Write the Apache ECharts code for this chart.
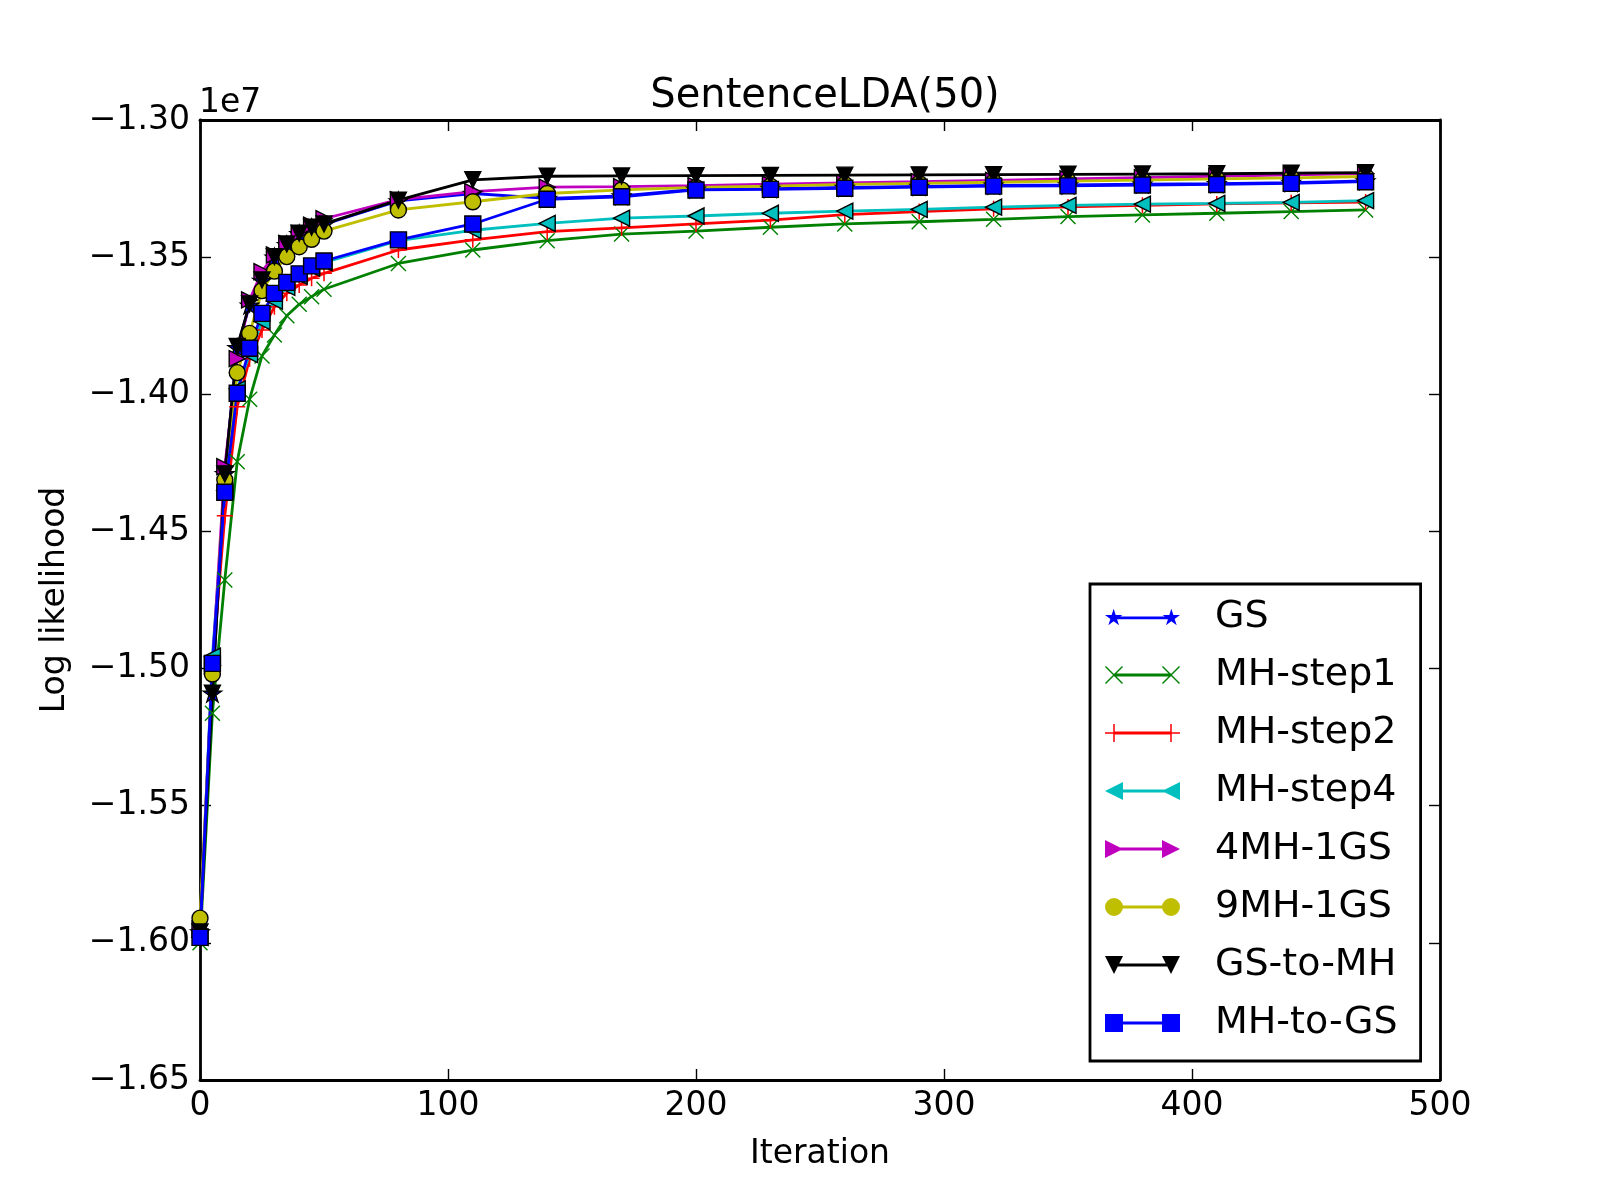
<!DOCTYPE html>
<html>
<head>
<meta charset="utf-8">
<title>SentenceLDA(50)</title>
<script src="https://cdn.jsdelivr.net/npm/echarts@6/dist/echarts.min.js"></script>
<style>
  html, body { margin: 0; padding: 0; background: #fff; }
  #chart { width: 1600px; height: 1200px; }
</style>
</head>
<body>
<div id="chart"></div>
<script>
// log likelihood, in units of 1e7 (same as the axis)
var iterations = [0, 5, 10, 15, 20, 25, 30, 35, 40, 45, 50, 80, 110, 140, 170, 200, 230, 260, 290, 320, 350, 380, 410, 440, 470];

var gs       = [-1.596, -1.509, -1.429, -1.3830, -1.3675, -1.3585, -1.3500, -1.3455, -1.3415, -1.3393, -1.3381, -1.3295, -1.3268, -1.3286, -1.3277, -1.3252, -1.3250, -1.3246, -1.3242, -1.3238, -1.3237, -1.3234, -1.3232, -1.3228, -1.3222];
var mhStep1  = [-1.600, -1.5163, -1.4677, -1.4246, -1.4018, -1.3860, -1.3784, -1.3714, -1.3672, -1.3644, -1.3617, -1.3523, -1.3474, -1.3440, -1.3416, -1.3405, -1.3391, -1.3379, -1.3371, -1.3362, -1.3352, -1.3346, -1.3340, -1.3334, -1.3328];
var mhStep2  = [-1.598, -1.499, -1.4443, -1.4045, -1.3870, -1.3766, -1.3681, -1.3632, -1.3602, -1.3577, -1.3559, -1.3474, -1.3437, -1.3407, -1.3393, -1.3379, -1.3365, -1.3345, -1.3334, -1.3324, -1.3317, -1.3311, -1.3306, -1.3302, -1.3299];
var mhStep4  = [-1.598, -1.4955, -1.435, -1.3980, -1.3855, -1.3735, -1.3660, -1.3610, -1.3570, -1.3540, -1.3520, -1.3440, -1.3402, -1.3377, -1.3358, -1.3350, -1.3340, -1.3332, -1.3326, -1.3318, -1.3311, -1.3307, -1.3304, -1.3300, -1.3294];
var mh4gs1   = [-1.595, -1.499, -1.4264, -1.3870, -1.3656, -1.3553, -1.3492, -1.3450, -1.3413, -1.3383, -1.3360, -1.3290, -1.3261, -1.3245, -1.3243, -1.3239, -1.3234, -1.3229, -1.3225, -1.3220, -1.3215, -1.3210, -1.3205, -1.3200, -1.3195];
var mh9gs1   = [-1.591, -1.502, -1.4312, -1.3921, -1.3778, -1.3622, -1.3551, -1.3498, -1.3462, -1.3435, -1.3405, -1.3328, -1.3298, -1.3268, -1.3255, -1.3246, -1.3241, -1.3235, -1.3231, -1.3227, -1.3223, -1.3219, -1.3215, -1.3211, -1.3206];
var gsToMh   = [-1.596, -1.509, -1.429, -1.3826, -1.3671, -1.3583, -1.3498, -1.3452, -1.3413, -1.3391, -1.3379, -1.3292, -1.3218, -1.3205, -1.3204, -1.3203, -1.3202, -1.3201, -1.3200, -1.3199, -1.3198, -1.3197, -1.3196, -1.3194, -1.3192];
var mhToGs   = [-1.598, -1.4981, -1.4357, -1.3996, -1.3832, -1.3705, -1.3632, -1.3592, -1.3561, -1.3532, -1.3514, -1.3437, -1.3379, -1.3289, -1.3280, -1.3255, -1.3253, -1.3249, -1.3245, -1.3241, -1.3240, -1.3237, -1.3235, -1.3231, -1.3225];

var FONT = 'DejaVu Sans';

// marker shapes (matplotlib style)
function f(n) { return n.toFixed(2); }
function star(cx, cy, s) {
  var r = s / 2, pts = [];
  for (var i = 0; i < 10; i++) {
    var rad = i % 2 ? r * 0.382 : r;
    var a = -Math.PI / 2 + i * Math.PI / 5;
    pts.push(f(cx + rad * Math.cos(a)) + ',' + f(cy + rad * Math.sin(a)));
  }
  return 'M' + pts.join('L') + 'Z';
}
function rect(x0, y0, x1, y1) {
  return 'M' + f(x0) + ',' + f(y0) + 'L' + f(x1) + ',' + f(y0) + 'L' + f(x1) + ',' + f(y1) + 'L' + f(x0) + ',' + f(y1) + 'Z';
}
function square(cx, cy, s) { var h = s / 2; return rect(cx - h, cy - h, cx + h, cy + h); }
function circle(cx, cy, s) {
  var r = s / 2;
  return 'M' + f(cx - r) + ',' + f(cy) + 'A' + r + ',' + r + ' 0 1,1 ' + f(cx + r) + ',' + f(cy) +
         'A' + r + ',' + r + ' 0 1,1 ' + f(cx - r) + ',' + f(cy) + 'Z';
}
function triDown(cx, cy, s) { var h = s / 2; return 'M' + f(cx - h) + ',' + f(cy - h) + 'L' + f(cx + h) + ',' + f(cy - h) + 'L' + f(cx) + ',' + f(cy + h) + 'Z'; }
function triLeft(cx, cy, s) { var h = s / 2; return 'M' + f(cx - h) + ',' + f(cy) + 'L' + f(cx + h) + ',' + f(cy - h) + 'L' + f(cx + h) + ',' + f(cy + h) + 'Z'; }
function triRight(cx, cy, s) { var h = s / 2; return 'M' + f(cx - h) + ',' + f(cy - h) + 'L' + f(cx + h) + ',' + f(cy) + 'L' + f(cx - h) + ',' + f(cy + h) + 'Z'; }
function plus(cx, cy, s) {
  var h = s / 2, w = 0.75;
  return rect(cx - h, cy - w, cx + h, cy + w) + rect(cx - w, cy - h, cx + w, cy + h);
}
function cross(cx, cy, s) {
  var h = s / 2, d = 1;
  var x0 = cx - h, y0 = cy - h, x1 = cx + h, y1 = cy + h;
  return 'M' + f(x0) + ',' + f(y0 + d) + 'L' + f(x0 + d) + ',' + f(y0) + 'L' + f(x1) + ',' + f(y1 - d) + 'L' + f(x1 - d) + ',' + f(y1) + 'Z' +
         'M' + f(x1 - d) + ',' + f(y0) + 'L' + f(x1) + ',' + f(y0 + d) + 'L' + f(x0 + d) + ',' + f(y1) + 'L' + f(x0) + ',' + f(y1 - d) + 'Z';
}

// legend icon: line with a marker at each end
function legendIcon(shape, size) {
  var y = 9;
  return 'path://' + rect(9, y - 1.4, 66, y + 1.4) + shape(9, y, size) + shape(66, y, size);
}

var defs = [
  { name: 'GS',        data: gs,      color: '#0000ff', shape: star,     size: 18, edge: true },
  { name: 'MH-step1',  data: mhStep1, color: '#008000', shape: cross,    size: 16, edge: false },
  { name: 'MH-step2',  data: mhStep2, color: '#ff0000', shape: plus,     size: 16, edge: false },
  { name: 'MH-step4',  data: mhStep4, color: '#00bfbf', shape: triLeft,  size: 16, edge: true },
  { name: '4MH-1GS',   data: mh4gs1,  color: '#bf00bf', shape: triRight, size: 16, edge: true },
  { name: '9MH-1GS',   data: mh9gs1,  color: '#bfbf00', shape: circle,   size: 16, edge: true },
  { name: 'GS-to-MH',  data: gsToMh,  color: '#000000', shape: triDown,  size: 16, edge: true },
  { name: 'MH-to-GS',  data: mhToGs,  color: '#0000ff', shape: square,   size: 16, edge: true }
];

var series = defs.map(function (d) {
  return {
    name: d.name,
    type: 'line',
    data: iterations.map(function (x, i) { return [x, d.data[i]]; }),
    symbol: 'path://' + d.shape(0, 0, 16),
    symbolSize: d.size,
    symbolKeepAspect: true,
    showSymbol: true,
    lineStyle: { color: d.color, width: 2.8 },
    itemStyle: { color: d.color, borderColor: '#000', borderWidth: d.edge ? 1.4 : 0 },
    emphasis: { disabled: true },
    animation: false
  };
});

var legendData = defs.map(function (d) {
  return { name: d.name, icon: legendIcon(d.shape, 18), itemStyle: { borderWidth: 0 } };
});

function yFmt(v) {
  return (v < 0 ? '\u2212' : '') + Math.abs(v).toFixed(2);
}

var tickStyle = { show: true, inside: true, length: 11, lineStyle: { color: '#000', width: 1.4 } };
var lineAx = { show: true, onZero: false, lineStyle: { color: '#000', width: 2.8 } };

var chart = echarts.init(document.getElementById('chart'));
chart.setOption({
  backgroundColor: '#fff',
  animation: false,
  textStyle: { fontFamily: FONT, color: '#000' },
  title: [
    { text: 'SentenceLDA(50)', left: 820, top: 72, textAlign: 'center',
      textStyle: { fontFamily: FONT, fontSize: 40, fontWeight: 'normal', color: '#000' } },
    { text: '1e7', left: 194, top: 82,
      textStyle: { fontFamily: FONT, fontSize: 33, fontWeight: 'normal', color: '#000' } }
  ],
  grid: { left: 200, right: 160, top: 120, bottom: 120, containLabel: false },
  legend: {
    data: legendData,
    orient: 'vertical',
    left: 1090,
    top: 584,
    itemWidth: 75,
    itemHeight: 18,
    itemGap: 20,
    padding: [14, 23, 19, 15],
    backgroundColor: '#fff',
    borderColor: '#000',
    borderWidth: 2.8,
    borderRadius: 0,
    selectedMode: false,
    textStyle: { fontFamily: FONT, fontSize: 38, color: '#000', padding: [0, 0, 0, 30] }
  },
  xAxis: [
    { type: 'value', position: 'bottom', min: 0, max: 500, interval: 100,
      name: 'Iteration', nameLocation: 'middle', nameGap: 58,
      nameTextStyle: { fontFamily: FONT, fontSize: 33, color: '#000' },
      axisLine: lineAx, axisTick: tickStyle,
      axisLabel: { fontFamily: FONT, fontSize: 33, color: '#000', margin: 10 },
      splitLine: { show: false } },
    { type: 'value', position: 'top', min: 0, max: 500, interval: 100,
      axisLine: lineAx, axisTick: tickStyle, axisLabel: { show: false }, splitLine: { show: false } }
  ],
  yAxis: [
    { type: 'value', position: 'left', min: -1.65, max: -1.30, interval: 0.05,
      name: 'Log likelihood', nameLocation: 'middle', nameGap: 128,
      nameTextStyle: { fontFamily: FONT, fontSize: 33, color: '#000' },
      axisLine: lineAx, axisTick: tickStyle,
      axisLabel: { fontFamily: FONT, fontSize: 33, color: '#000', margin: 10, formatter: yFmt },
      splitLine: { show: false } },
    { type: 'value', position: 'right', min: -1.65, max: -1.30, interval: 0.05,
      axisLine: lineAx, axisTick: tickStyle, axisLabel: { show: false }, splitLine: { show: false } }
  ],
  series: series
});
</script>
</body>
</html>
